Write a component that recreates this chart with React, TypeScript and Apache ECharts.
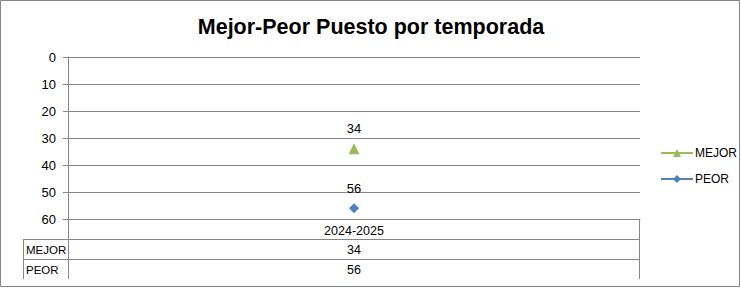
import React, { useEffect, useRef } from "react";
import * as echarts from "echarts";

const categories = ["2024-2025"];
const seriesNames = ["MEJOR", "PEOR"];
const mejorValues = [34];
const peorValues = [56];
const yTicks = [0, 10, 20, 30, 40, 50, 60];

const W = 741;
const H = 289;
const GL = 68;
const GT = 57;
const GR = 640;
const GB = 219;
const ROW = 20;
const TABLE_LEFT = 23;
const GRAY = "#868686";
const FONT = "'Liberation Sans', Arial, sans-serif";

export default function App() {
  const ref = useRef<HTMLDivElement>(null);
  useEffect(() => {
    document.body.style.margin = "0";
    const chart = echarts.init(ref.current!, null, { renderer: "svg", width: W, height: H });
    const rowsData = [mejorValues, peorValues];
    const tableBottom = GB + ROW * (1 + rowsData.length);
    const graphics: any[] = [
      { type: "rect", shape: { x: 0.5, y: 0.5, width: W - 2, height: H - 3 }, style: { fill: "none", stroke: GRAY, lineWidth: 1 } },
      { type: "line", shape: { x1: GL + 0.5, y1: GB, x2: GL + 0.5, y2: tableBottom }, style: { stroke: GRAY, lineWidth: 1 } },
      { type: "line", shape: { x1: GR - 0.5, y1: GB, x2: GR - 0.5, y2: tableBottom }, style: { stroke: GRAY, lineWidth: 1 } },
      { type: "line", shape: { x1: TABLE_LEFT + 0.5, y1: GB + ROW, x2: TABLE_LEFT + 0.5, y2: tableBottom }, style: { stroke: GRAY, lineWidth: 1 } },
    ];
    for (let i = 1; i <= rowsData.length; i++) {
      const y = GB + ROW * i + 0.5;
      graphics.push({ type: "line", shape: { x1: TABLE_LEFT, y1: y, x2: GR, y2: y }, style: { stroke: GRAY, lineWidth: 1 } });
    }
    rowsData.forEach((vals, r) => {
      const yc = GB + ROW * (r + 1) + ROW / 2 + 1;
      graphics.push({
        type: "text", x: TABLE_LEFT + 3, y: yc,
        style: { text: seriesNames[r], font: `11.5px ${FONT}`, fill: "#000", textVerticalAlign: "middle", textAlign: "left" },
      });
      vals.forEach((v, c) => {
        const cw = (GR - GL) / categories.length;
        graphics.push({
          type: "text", x: GL + cw * (c + 0.5), y: yc,
          style: { text: String(v), font: `12.5px ${FONT}`, fill: "#000", textVerticalAlign: "middle", textAlign: "center" },
        });
      });
    });

    chart.setOption({
      animation: false,
      title: {
        text: "Mejor-Peor Puesto por temporada",
        left: 366, top: 11, textAlign: "center",
        textStyle: { fontFamily: FONT, fontSize: 21.5, fontWeight: "bold", color: "#000" },
      },
      grid: { left: GL, top: GT, right: W - GR, bottom: H - GB, containLabel: false },
      legend: {
        orient: "vertical", left: 655, top: 142, itemWidth: 32, itemHeight: 10, itemGap: 14,
        data: seriesNames,
        textStyle: { fontFamily: FONT, fontSize: 12, color: "#000", padding: [0, 0, 0, -3] },
      },
      xAxis: {
        type: "category", data: categories, boundaryGap: true,
        axisLine: { show: true, onZero: false, lineStyle: { color: GRAY } },
        axisTick: { show: false },
        axisLabel: { fontFamily: FONT, fontSize: 12.5, color: "#000", margin: 5 },
        splitLine: { show: false },
      },
      yAxis: {
        type: "value", inverse: true, min: yTicks[0], max: yTicks[yTicks.length - 1], interval: 10,
        axisLine: { show: true, lineStyle: { color: GRAY } },
        axisTick: { show: true, length: 5, lineStyle: { color: GRAY } },
        axisLabel: { fontFamily: FONT, fontSize: 13, color: "#000", margin: 12 },
        splitLine: { show: true, lineStyle: { color: GRAY } },
      },
      series: [
        {
          name: seriesNames[0], type: "line", data: mejorValues, symbol: "triangle", symbolSize: 11,
          itemStyle: { color: "#9BBB59" }, lineStyle: { color: "#9BBB59", width: 3 },
          label: { show: true, position: "top", distance: 8, fontFamily: FONT, fontSize: 13, color: "#000" },
        },
        {
          name: seriesNames[1], type: "line", data: peorValues, symbol: "diamond", symbolSize: 10,
          itemStyle: { color: "#4F81BD" }, lineStyle: { color: "#4F81BD", width: 3 },
          label: { show: true, position: "top", distance: 8, fontFamily: FONT, fontSize: 13, color: "#000" },
        },
      ],
      graphic: graphics,
    });
    return () => chart.dispose();
  }, []);
  return <div ref={ref} style={{ width: W, height: H, position: "absolute", left: 0, top: 0, background: "#fff" }} />;
}
